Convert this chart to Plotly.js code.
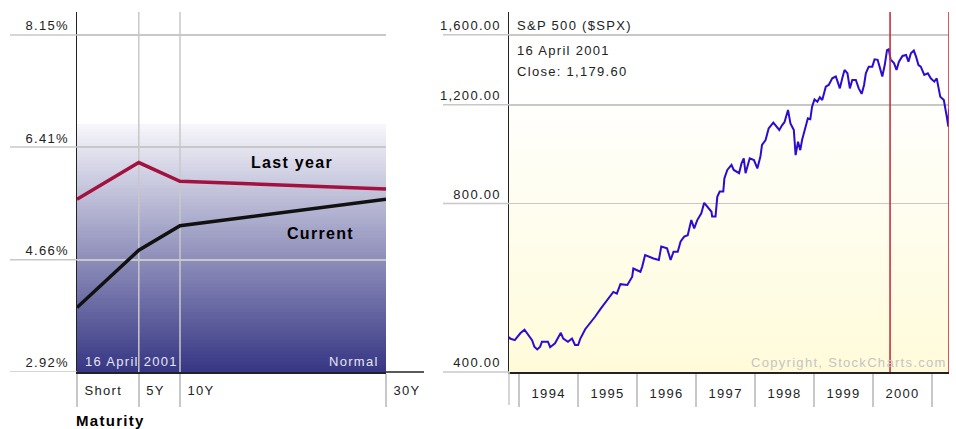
<!DOCTYPE html>
<html><head><meta charset="utf-8">
<script src="https://cdn.plot.ly/plotly-3.0.1.min.js"></script>
<style>
html,body{margin:0;padding:0;background:#fff}
#chart{width:956px;height:429px}
svg text{letter-spacing:1.3px}
</style></head><body><div id="chart"></div>
<script>
// ---------- Yield curve (left) ----------
const maturityLabels = ['Short', '5Y', '10Y', '30Y'];
const maturityPos = [0, 6, 10, 30];
const yieldLastYear = [5.60, 6.17, 5.88, 5.76];
const yieldCurrent = [3.92, 4.81, 5.19, 5.60];
const yieldTicks = [2.92, 4.66, 6.41, 8.15];
const yieldTickLabels = ['2.92%', '4.66%', '6.41%', '8.15%'];

// ---------- S&P 500 (right) ----------
const spxDates = ['1993-10-30','1993-11-06','1993-12-05','1994-01-08','1994-02-03','1994-02-25','1994-03-22','1994-04-05','1994-04-23','1994-05-11','1994-05-22','1994-06-28','1994-07-12','1994-08-11','1994-09-16','1994-10-01','1994-10-30','1994-11-24','1994-12-13','1995-01-01','1995-01-15','1995-02-14','1995-03-18','1995-04-16','1995-05-19','1995-06-17','1995-07-20','1995-08-07','1995-08-29','1995-09-20','1995-11-02','1995-12-02','1995-12-09','1996-01-22','1996-02-02','1996-02-20','1996-04-12','1996-05-15','1996-05-30','1996-07-05','1996-07-27','1996-08-14','1996-09-09','1996-09-27','1996-10-19','1996-11-10','1996-12-02','1996-12-20','1997-01-08','1997-02-02','1997-02-20','1997-04-06','1997-04-10','1997-05-01','1997-05-12','1997-05-27','1997-06-18','1997-06-25','1997-07-13','1997-08-08','1997-08-22','1997-09-24','1997-10-09','1997-10-23','1997-11-03','1997-11-29','1997-12-25','1998-01-15','1998-02-03','1998-02-13','1998-03-07','1998-03-26','1998-04-24','1998-05-31','1998-06-18','1998-07-02','1998-07-24','1998-08-08','1998-08-29','1998-09-09','1998-09-24','1998-10-08','1998-10-19','1998-11-10','1998-11-24','1998-12-09','1998-12-20','1999-01-04','1999-01-22','1999-02-06','1999-02-21','1999-03-15','1999-04-02','1999-04-24','1999-05-16','1999-05-27','1999-06-10','1999-06-25','1999-07-09','1999-07-27','1999-08-11','1999-08-26','1999-09-17','1999-10-05','1999-10-23','1999-11-07','1999-11-18','1999-12-06','1999-12-28','2000-01-11','2000-01-30','2000-02-14','2000-02-28','2000-03-14','2000-03-28','2000-04-08','2000-04-19','2000-05-11','2000-05-26','2000-06-10','2000-07-02','2000-07-24','2000-08-08','2000-08-23','2000-09-10','2000-09-24','2000-10-09','2000-10-23','2000-11-14','2000-12-06','2000-12-24','2001-01-15','2001-01-30','2001-02-21','2001-03-15','2001-04-02','2001-04-12','2001-04-16'];
const spxClose = [462,459,456,469,476,466,456,444,439,444,453,453,443,450,470,459,453,459,447,447,459,477,489,502,518,532,549,556,552,574,572,592,612,604,617,647,638,634,670,665,634,656,656,684,698,702,747,722,747,768,802,773,758,758,822,840,840,887,918,937,918,906,943,963,906,963,956,924,970,1018,1038,1089,1115,1082,1104,1117,1175,1112,1082,976,1031,996,1038,1104,1135,1131,1191,1227,1215,1238,1224,1293,1302,1338,1348,1320,1284,1338,1385,1366,1284,1329,1329,1284,1255,1302,1366,1404,1404,1447,1444,1394,1348,1413,1503,1508,1447,1423,1385,1433,1467,1473,1433,1483,1500,1463,1413,1404,1357,1366,1338,1320,1338,1240,1224,1143,1097,1179.6];
const spxTicks = [400, 800, 1200, 1600];
const spxTickLabels = ['400.00', '800.00', '1,200.00', '1,600.00'];
const markerDates = ['2000-04-16', '2001-04-16'];

// ---------- geometry helpers (px -> paper) ----------
const W = 956, H = 429;
const px = v => v / W;
const py = v => 1 - v / H;
const yDom = [py(372), py(12)];
const leftRange = [2.92, 2.92 + 360 / 64.44];
const spxLo = Math.log10(400), spxHi = Math.log10(400) + 360 / 560;

const shapes = [];
// left gradient background
const NL = 70, gTop = 0.686;
const cBot = [54, 54, 132], cTop = [246, 246, 251];
for (let i = 0; i < NL; i++) {
  const t = (i + 0.5) / NL;
  const c = cBot.map((b, k) => Math.round(b + (cTop[k] - b) * t));
  shapes.push({type:'rect', xref:'x domain', yref:'y domain', x0:0, x1:1,
    y0: gTop * i / NL, y1: gTop * (i + 1) / NL + 0.003, layer:'below',
    fillcolor:`rgb(${c[0]},${c[1]},${c[2]})`, line:{width:0}});
}
// right gradient background
const NR = 50, yBot = [255, 251, 218], yTopC = [255, 255, 255];
for (let i = 0; i < NR; i++) {
  const t = Math.min(1, ((i + 0.5) / NR) * 1.25);
  const c = yBot.map((b, k) => Math.round(b + (yTopC[k] - b) * t));
  shapes.push({type:'rect', xref:'x2 domain', yref:'y2 domain', x0:0, x1:1,
    y0: i / NR, y1: (i + 1) / NR + 0.003, layer:'below',
    fillcolor:`rgb(${c[0]},${c[1]},${c[2]})`, line:{width:0}});
}
// left vertical gridlines (inner maturities), above gradient, below traces
maturityPos.slice(1, 3).forEach(m => shapes.push({type:'line', xref:'x', yref:'y',
  x0:m, x1:m, y0:leftRange[0], y1:leftRange[1], layer:'below', line:{color:'#c8c8c8', width:1.5}}));
// left horizontal gridline extensions into label area
yieldTicks.forEach(v => shapes.push({type:'line', xref:'paper', yref:'y',
  x0:px(10), x1:px(77), y0:v, y1:v, line:{color:'#c8c8c8', width:1.5}}));
// right horizontal gridline extensions
spxTicks.forEach(v => {
  const f = (Math.log10(v) - spxLo) / (spxHi - spxLo);
  shapes.push({type:'line', xref:'paper', yref:'y2 domain',
    x0:px(443), x1:px(509), y0:f, y1:f, line:{color:'#c8c8c8', width:1.5}});
});
// left bottom axis extension
shapes.push({type:'line', xref:'paper', yref:'paper', x0:px(386), x1:px(424), y0:py(372), y1:py(372),
  line:{color:'#222', width:1.5}});
// right chart left boundary tick
shapes.push({type:'line', xref:'paper', yref:'paper', x0:px(509), x1:px(509), y0:py(372), y1:py(405),
  line:{color:'#c8c8c8', width:1.5}});
// red marker lines
markerDates.forEach(d => shapes.push({type:'line', xref:'x2', yref:'y2 domain',
  x0:d, x1:d, y0:0, y1:1, layer:'above', line:{color:'#c8303f', width:1.6}}));

const F = 'Liberation Sans, Arial, sans-serif';
const annotations = [
  {text:'<b>Last year</b>', x:px(292), y:py(162), xanchor:'center', font:{size:16, color:'#000'}},
  {text:'<b>Current</b>', x:px(320), y:py(233), xanchor:'center', font:{size:16, color:'#000'}},
  {text:'16 April 2001', x:px(83), y:py(361), xanchor:'left', font:{size:13, color:'#e6e6f2'}},
  {text:'Normal', x:px(381), y:py(361), xanchor:'right', font:{size:13, color:'#e6e6f2'}},
  {text:'<b>Maturity</b>', x:px(74), y:py(420), xanchor:'left', font:{size:15, color:'#000'}},
  {text:'S&P 500 ($SPX)', x:px(515), y:py(25), xanchor:'left', font:{size:13, color:'#222'}},
  {text:'16 April 2001', x:px(515), y:py(50), xanchor:'left', font:{size:13, color:'#222'}},
  {text:'Close: 1,179.60', x:px(515), y:py(72), xanchor:'left', font:{size:13, color:'#222'}},
  {text:'Copyright, StockCharts.com', x:px(949), y:py(362), xanchor:'right', font:{size:13, color:'#c4c4c4'}}
].map(a => Object.assign({xref:'paper', yref:'paper', showarrow:false, yanchor:'middle'}, a));

const traces = [
  {x:maturityPos, y:yieldLastYear, xaxis:'x', yaxis:'y', mode:'lines', line:{color:'#a3123e', width:3.5}, hoverinfo:'skip'},
  {x:maturityPos, y:yieldCurrent, xaxis:'x', yaxis:'y', mode:'lines', line:{color:'#111', width:3.5}, hoverinfo:'skip'},
  {x:spxDates, y:spxClose, xaxis:'x2', yaxis:'y2', mode:'lines', line:{color:'#2d0bd0', width:2}, hoverinfo:'skip'}
];

const tickFont = {family:F, size:13, color:'#222'};
const layout = {
  width:W, height:H, margin:{l:0, r:0, t:0, b:0}, showlegend:false,
  paper_bgcolor:'#fff', plot_bgcolor:'rgba(0,0,0,0)',
  font:{family:F, size:13, color:'#222'},
  xaxis:{domain:[px(77), px(386)], range:[0, 30], tickvals:maturityPos, ticktext:maturityLabels,
    ticks:'outside', ticklen:33, tickcolor:'#c8c8c8', tickwidth:1.5, showgrid:false, zeroline:false,
    showline:true, linecolor:'#222', linewidth:1.5, ticklabelposition:'outside right',
    ticklabelstandoff:6, ticklabelshift:6, tickfont:tickFont, fixedrange:true, anchor:'y'},
  yaxis:{domain:yDom, range:leftRange, tickvals:yieldTicks, ticktext:yieldTickLabels, ticks:'',
    showgrid:true, gridcolor:'#c8c8c8', gridwidth:1.5, zeroline:false, showline:true, linecolor:'#222',
    linewidth:1.5, ticklabelposition:'outside top', ticklabelstandoff:4, tickfont:tickFont, anchor:'x'},
  xaxis2:{domain:[px(509), px(949)], type:'date', range:['1993-10-30', '2001-04-16'],
    tick0:'1994-01-01', dtick:'M12', tickformat:'%Y', ticklabelmode:'period',
    ticks:'outside', ticklen:33, tickcolor:'#c8c8c8', tickwidth:1.5, showgrid:false, zeroline:false,
    showline:true, linecolor:'#222', linewidth:1.5, ticklabelstandoff:-24, tickfont:tickFont, anchor:'y2'},
  yaxis2:{domain:yDom, type:'log', range:[spxLo, spxHi], tickvals:spxTicks, ticktext:spxTickLabels, ticks:'',
    showgrid:true, gridcolor:'#c8c8c8', gridwidth:1.5, zeroline:false, showline:true, linecolor:'#222',
    linewidth:1.5, ticklabelposition:'outside top', ticklabelstandoff:4, tickfont:tickFont, anchor:'x2'},
  shapes:shapes, annotations:annotations
};
Plotly.newPlot('chart', traces, layout, {staticPlot:true, displayModeBar:false});
</script></body></html>
